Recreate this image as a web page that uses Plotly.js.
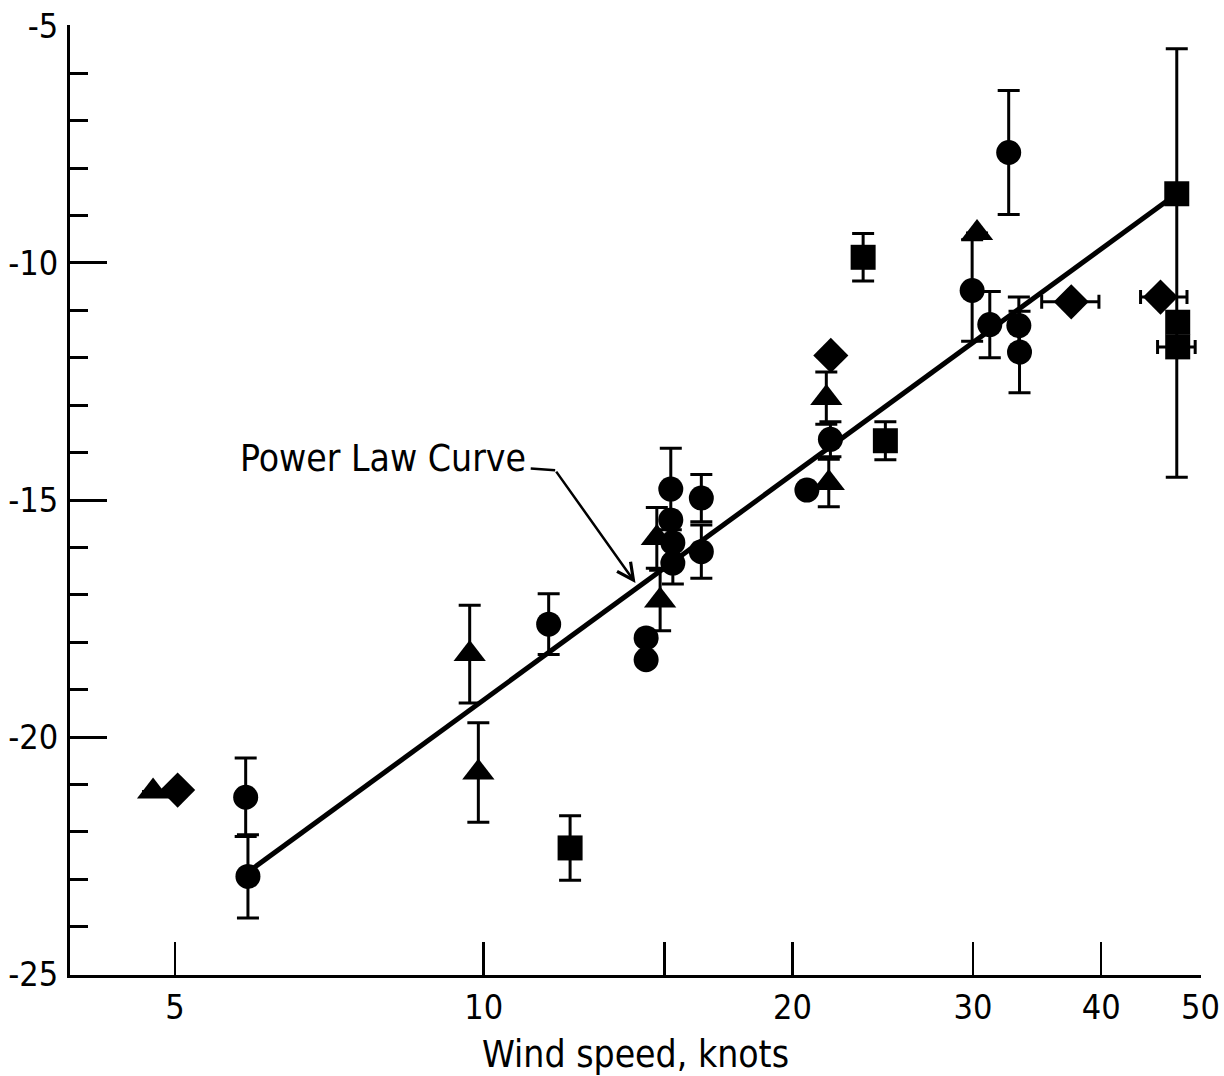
<!DOCTYPE html>
<html><head><meta charset="utf-8">
<script src="https://cdn.plot.ly/plotly-3.0.1.min.js"></script>
<style>html,body{margin:0;padding:0;background:#fff;} #chart{width:1224px;height:1076px;}</style>
</head><body><div id="chart"></div>
<script>
// Power law curve (straight on log-x axis)
const curveX = [5.89, 47.4];
const curveY = [-22.85, -8.54];

// Circles
const circleX = [5.86, 5.89, 11.57, 14.4, 14.4, 15.22, 15.22, 15.29, 15.29, 16.3, 16.3, 20.66, 21.78, 32.5, 29.94, 31.15, 33.25, 33.3];
const circleY = [-21.27, -22.94, -17.62, -17.91, -18.37, -14.77, -15.42, -15.9, -16.33, -14.96, -16.09, -14.79, -13.72, -7.67, -10.58, -11.3, -11.32, -11.88];
const circleErr = [0.83, 0.88, 0.64, null, null, 0.86, null, null, 0.44, 0.5, 0.56, null, 0.37, 1.31, 1.07, 0.7, 0.6, 0.86];

// Triangles
const triX = [4.76, 9.69, 9.88, 14.75, 14.86, 21.58, 21.7, 30.27];
const triY = [-21.15, -18.25, -20.75, -15.8, -17.12, -12.85, -14.64, -9.37];
const triErr = [null, 1.03, 1.05, 0.64, 0.64, 0.55, 0.5, null];

// Squares
const sqX = [12.14, 23.44, 24.64, 47.4, 47.5, 47.5];
const sqY = [-22.34, -9.88, -13.75, -8.54, -11.25, -11.77];
const sqErrUp = [0.68, 0.5, 0.4, 3.06, null, null];
const sqErrDown = [0.68, 0.5, 0.4, 5.98, null, null];
const sqErrXPlus = [null, null, null, null, null, 1.9];
const sqErrXMinus = [null, null, null, null, null, 2.1];

// Diamonds
const diaX = [5.03, 21.8, 37.4, 45.7];
const diaY = [-21.12, -11.95, -10.82, -10.72];
const diaErrXPlus = [null, null, 2.4, 2.8];
const diaErrXMinus = [null, null, 2.4, 2.0];

// Axis ticks
const xTickVals = [5, 10, 15, 20, 30, 40, 50];
const xTickText = ['5', '10', '', '20', '30', '40', '50'];
const yTickVals = [-5, -10, -15, -20, -25];
const yTickText = ['-5', '-10', '-15', '-20', '-25'];

// Annotation
const labelText = 'Power Law Curve';
const labelPos = [7.98, -14.12];
const dashEnd = [11.74, -14.37];
const arrowTip = [14.06, -16.75];

const FONT = "'Liberation Sans Narrow', 'DejaVu Sans Condensed', 'Liberation Sans', Arial, sans-serif";
const BLACK = '#000';

function errY(plus, minus) {
  return {type: 'data', array: plus, arrayminus: minus || plus, symmetric: false,
          visible: true, color: BLACK, thickness: 3, width: 11};
}
function errX(plus, minus) {
  return {type: 'data', array: plus, arrayminus: minus, symmetric: false,
          visible: true, color: BLACK, thickness: 3, width: 7};
}

const traces = [
  {x: curveX, y: curveY, mode: 'lines', line: {color: BLACK, width: 5}, hoverinfo: 'skip'},
  {x: circleX, y: circleY, mode: 'markers', marker: {symbol: 'circle', size: 25, color: BLACK},
   error_y: errY(circleErr)},
  {x: triX, y: triY, mode: 'markers', marker: {symbol: 'triangle-up', size: 28, color: BLACK},
   error_y: errY(triErr)},
  {x: sqX, y: sqY, mode: 'markers', marker: {symbol: 'square', size: 25, color: BLACK},
   error_y: errY(sqErrUp, sqErrDown), error_x: errX(sqErrXPlus, sqErrXMinus)},
  {x: diaX, y: diaY, mode: 'markers', marker: {symbol: 'diamond', size: 27, color: BLACK},
   error_x: errX(diaErrXPlus, diaErrXMinus)}
];
traces.forEach(t => { t.cliponaxis = false; t.showlegend = false; });

const layout = {
  width: 1224, height: 1076,
  margin: {l: 70, r: 23, t: 25, b: 101},
  paper_bgcolor: '#fff', plot_bgcolor: '#fff',
  font: {family: FONT, color: BLACK, size: 34},
  showlegend: false,
  xaxis: {
    type: 'log',
    range: [Math.log10(3.95), Math.log10(50.05)],
    tickvals: xTickVals, ticktext: xTickText,
    ticks: 'inside', ticklen: 33, tickwidth: 2.5, tickcolor: BLACK,
    showline: true, linecolor: BLACK, linewidth: 3,
    showgrid: false, zeroline: false,
    tickfont: {family: FONT, size: 34, color: BLACK},
    ticklabelstandoff: 0,
    title: {text: 'Wind speed, knots', font: {family: FONT, size: 37, color: BLACK}, standoff: 18},
    automargin: false
  },
  yaxis: {
    range: [-25.02, -4.98],
    tickvals: yTickVals, ticktext: yTickText,
    ticks: 'inside', ticklen: 37, tickwidth: 3, tickcolor: BLACK,
    minor: {dtick: 1, ticks: 'inside', ticklen: 18, tickwidth: 3, tickcolor: BLACK},
    showline: true, linecolor: BLACK, linewidth: 3,
    showgrid: false, zeroline: false,
    tickfont: {family: FONT, size: 34, color: BLACK},
    ticklabelstandoff: 2,
    automargin: false
  },
  annotations: [
    {x: Math.log10(dashEnd[0]), y: dashEnd[1], xref: 'x', yref: 'y',
     ax: Math.log10(labelPos[0]), ay: labelPos[1], axref: 'x', ayref: 'y',
     text: labelText, showarrow: true, arrowhead: 0, arrowwidth: 2.5, arrowcolor: BLACK,
     font: {family: FONT, size: 37, color: BLACK}, borderpad: 4},
    {x: Math.log10(arrowTip[0]), y: arrowTip[1], xref: 'x', yref: 'y',
     ax: Math.log10(dashEnd[0]), ay: dashEnd[1], axref: 'x', ayref: 'y',
     text: '', showarrow: true, arrowhead: 5, arrowsize: 1.3, arrowwidth: 2.5, arrowcolor: BLACK}
  ]
};

Plotly.newPlot('chart', traces, layout, {displayModeBar: false, staticPlot: true});
</script>
</body></html>
